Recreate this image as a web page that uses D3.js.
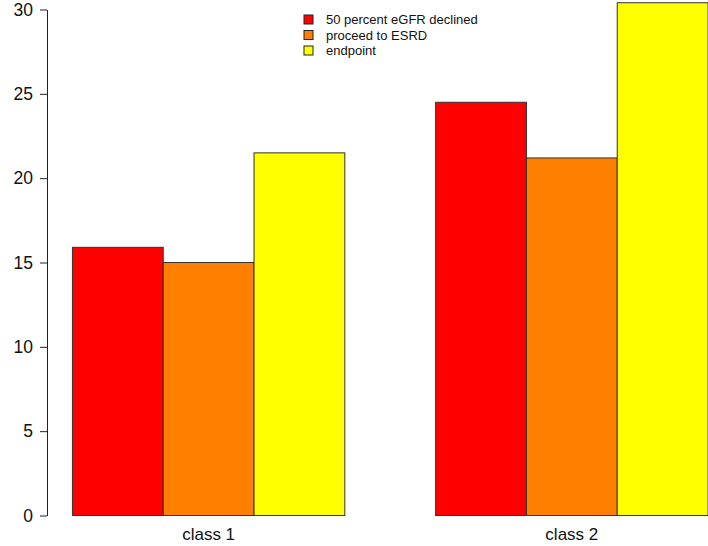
<!DOCTYPE html>
<html>
<head>
<meta charset="utf-8">
<script src="https://cdn.jsdelivr.net/npm/d3@7"></script>
<style>
  html, body { margin: 0; padding: 0; background: #fff; }
  svg { display: block; font-family: "Liberation Sans", Arial, sans-serif; }
</style>
</head>
<body>
<svg id="chart" width="708" height="546"></svg>
<script>
const groups = ["class 1", "class 2"];
const series = ["50 percent eGFR declined", "proceed to ESRD", "endpoint"];
const colors = ["#ff0000", "#ff7f00", "#ffff00"];
const values = [
  [15.9, 15.0, 21.5],
  [24.5, 21.2, 30.4]
];
const yTicks = [0, 5, 10, 15, 20, 25, 30];

const svg = d3.select("#chart");

// R barplot units: groups of 3 bars, 1 bar-width gap, 4% padding
const x = d3.scaleLinear().domain([0.72, 8.28]).range([47, 47 + 7.56 * 90.8]);
const y = d3.scaleLinear().domain([0, 30]).range([515.5, 9.5]);

const barStart = (g, s) => 1 + g * 4 + s;

groups.forEach((g, gi) => {
  svg.append("g").selectAll("rect")
    .data(values[gi])
    .enter().append("rect")
    .attr("x", (d, si) => x(barStart(gi, si)))
    .attr("width", (d, si) => x(barStart(gi, si) + 1) - x(barStart(gi, si)))
    .attr("y", d => y(d))
    .attr("height", d => y(0) - y(d))
    .attr("fill", (d, si) => colors[si])
    .attr("stroke", "#333")
    .attr("stroke-width", 1);

  svg.append("text")
    .attr("x", x(barStart(gi, 0) + 1.5))
    .attr("y", 540)
    .attr("text-anchor", "middle")
    .attr("font-size", 17)
    .attr("fill", "#111")
    .text(g);
});

// y axis, R style
const yAxis = svg.append("g").attr("transform", "translate(47,0)")
  .call(d3.axisLeft(y).tickValues(yTicks).tickSize(7).tickPadding(7).tickSizeOuter(0));
yAxis.select(".domain").attr("stroke", "#222");
yAxis.selectAll(".tick line").attr("stroke", "#222");
yAxis.selectAll(".tick text")
  .attr("font-size", 17.5)
  .attr("font-family", "Liberation Sans, Arial, sans-serif")
  .attr("fill", "#111");

// legend
const legend = svg.append("g");
series.forEach((s, i) => {
  const cy = 19.5 + i * 15.5;
  legend.append("rect")
    .attr("x", 304).attr("y", cy - 4.5)
    .attr("width", 9).attr("height", 9)
    .attr("fill", colors[i]).attr("stroke", "#222");
  legend.append("text")
    .attr("x", 326).attr("y", cy)
    .attr("dy", "0.35em")
    .attr("font-size", 13)
    .attr("fill", "#111")
    .text(s);
});
</script>
</body>
</html>
